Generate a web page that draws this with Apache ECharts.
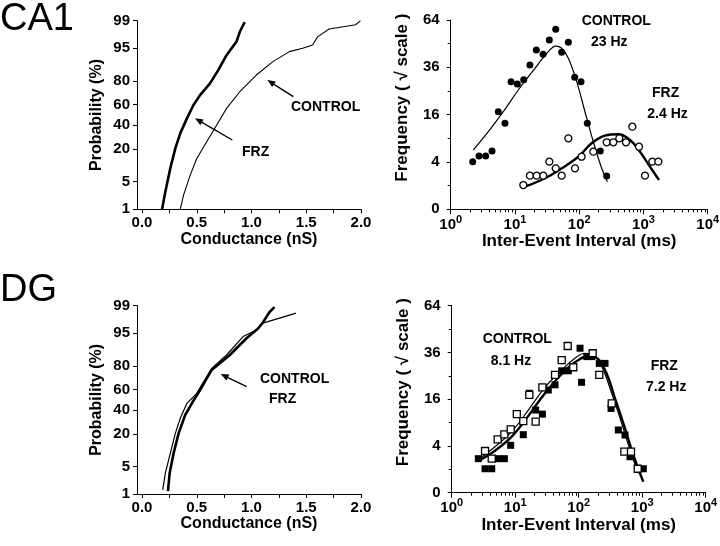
<!DOCTYPE html>
<html><head><meta charset="utf-8">
<script src="https://cdn.jsdelivr.net/npm/echarts@6/dist/echarts.min.js"></script>
<style>html,body{margin:0;padding:0;background:#fff}#c{width:720px;height:546px}</style>
</head><body><div id="c"></div>
<script>
// ---------- DATA ----------
// CA1 cumulative conductance distributions (nS, cumulative probability %)
const ca1FrzCond = [0.183,0.213,0.258,0.304,0.349,0.41,0.47,0.53,0.621,0.696,0.772,0.863,0.893,0.938];
const ca1FrzProb = [1.0,2.9,9.4,20.5,32.5,46.7,59.7,68.8,78.2,86.6,93.0,96.5,98.0,98.9];
const ca1CtlCond = [0.349,0.379,0.44,0.50,0.591,0.682,0.772,0.893,1.044,1.195,1.346,1.467,1.558,1.603,1.709,1.951,1.996];
const ca1CtlProb = [1.0,2.4,6.9,14.2,25.4,40.2,56.5,71.7,83.8,90.6,94.1,95.0,95.8,97.3,98.3,98.7,99.0];
// DG cumulative conductance distributions
const dgCtlCond = [0.189,0.213,0.258,0.304,0.349,0.41,0.50,0.636,0.772,0.923,1.044,1.104,1.407];
const dgCtlProb = [1.3,3.5,9.3,20.4,32.4,46.6,56.4,78.2,86.6,94.1,95.8,97.1,98.4];
const dgFrzCond = [0.237,0.252,0.288,0.334,0.394,0.455,0.53,0.636,0.802,0.954,1.06,1.104,1.165,1.21];
const dgFrzProb = [1.2,3.5,9.3,20.4,35.4,46.6,59.6,77.0,86.6,93.6,96.1,97.2,98.5,98.9];

// CA1 inter-event interval histograms (ms, frequency)
const ca1CtlMs   = [2.2,2.76,3.5,4.4,5.5,7.0,8.7,10.9,13.7,17.1,21.5,27.4,34.3,43.1,53.4,67.8,85.1,106.7,133.7,213,268];
const ca1CtlFreq = [4.05,5.07,5.07,6.07,17.0,13.2,29.1,28.0,30.0,37.2,45.3,42.9,51.2,57.9,44.0,49.8,31.1,29.1,13.2,6.07,1.98];
const ca1FrzMs   = [13.5,17.1,21.8,27.6,34.3,43.1,53.4,67.8,86.0,109,166,268,340,421,535,671,853,1057,1374,1706];
const ca1FrzFreq = [1.05,2.02,2.02,2.02,4.05,3.0,2.02,9.0,3.0,4.94,5.93,8.02,8.02,9.0,8.02,12.2,7.0,2.02,4.05,4.05];
const ca1CtlFitMs   = [2.25,3.85,6.59,11.27,20.5,33.0,43.1,53.5,67.8,91.4,123,166,224,274];
const ca1CtlFitFreq = [6.28,10.76,17.02,25.42,35.5,44.4,47.6,46.3,40.7,29.1,17.0,8.16,3.0,1.36];
const ca1FrzFitMs   = [14.3,29.4,53.5,96.8,156,252,406,618,883,1265,1746];
const ca1FrzFitFreq = [0.91,1.72,3.0,4.94,7.78,9.68,10.05,8.58,5.92,3.24,1.53];

// DG inter-event interval histograms
const dgFrzMs   = [2.63,3.35,4.27,5.43,6.75,8.49,13.4,16.7,21.0,26.8,33.2,42.4,54.0,68.7,105,111,134,160,211,260,323,421,536,642,1041];
const dgFrzFreq = [2.12,1.05,1.05,2.12,2.12,4.11,6.16,18.1,12.5,11.3,19.3,21.3,27.2,27.2,38.2,22.3,33.9,33.9,30.6,30.6,13.0,7.2,6.09,2.37,1.05];
const dgCtlMs   = [3.35,4.27,5.3,6.75,8.49,10.6,13.4,16.7,21.0,26.8,42.4,54.0,67.1,82.2,166,211,331,523,666,849];
const dgCtlFreq = [3.18,2.12,5.22,6.24,7.36,11.3,9.4,17.5,9.23,20.3,25.4,32.2,39.4,28.8,35.6,25.4,14.6,3.08,3.08,1.05];
const dgCtlFitMs   = [2.79,4.81,8.81,16.1,29.4,54.0,87.5,126,170,230,331,475,643,869];
const dgCtlFitFreq = [2.17,3.87,6.81,12.5,20.3,27.6,33.1,35.6,34.7,29.1,18.1,8.81,3.34,0.69];
const dgFrzFitMs   = [2.79,4.81,8.81,16.1,29.4,54.0,87.5,134,181,259,373,536,724,1040];
const dgFrzFitFreq = [1.96,3.23,5.74,10.8,18.1,25.8,31.1,33.8,33.5,27.6,16.3,7.59,2.60,0.22];

// tick labels
const probTicks = [1,5,20,40,60,80,95,99];
const condLabels = [0,0.5,1.0,1.5,2.0];
const condTicks = [0,0.25,0.5,0.75,1.0,1.25,1.5,1.75,2.0];
const freqLabels = [0,4,16,36,64];
const msMinorTicks = [2,3,4,5,6,7,8,9,20,30,40,50,60,70,80,90,200,300,400,500,600,700,800,900,2000,3000,4000,5000,6000,7000,8000,9000];

// ---------- helpers ----------
function probit(p){
  const a=[-3.969683028665376e+01,2.209460984245205e+02,-2.759285104469687e+02,1.383577518672690e+02,-3.066479806614716e+01,2.506628277459239e+00];
  const b=[-5.447609879822406e+01,1.615858368580409e+02,-1.556989798598866e+02,6.680131188771972e+01,-1.328068155288572e+01];
  const c=[-7.784894002430293e-03,-3.223964580411365e-01,-2.400758277161838e+00,-2.549732539343734e+00,4.374664141464968e+00,2.938163982698783e+00];
  const d=[7.784695709041462e-03,3.224671290700398e-01,2.445134137142996e+00,3.754408661907416e+00];
  const pl=0.02425, ph=1-pl; let q,r;
  if(p<pl){q=Math.sqrt(-2*Math.log(p));return (((((c[0]*q+c[1])*q+c[2])*q+c[3])*q+c[4])*q+c[5])/((((d[0]*q+d[1])*q+d[2])*q+d[3])*q+1);}
  if(p<=ph){q=p-0.5;r=q*q;return (((((a[0]*r+a[1])*r+a[2])*r+a[3])*r+a[4])*r+a[5])*q/(((((b[0]*r+b[1])*r+b[2])*r+b[3])*r+b[4])*r+1);}
  q=Math.sqrt(-2*Math.log(1-p));return -(((((c[0]*q+c[1])*q+c[2])*q+c[3])*q+c[4])*q+c[5])/((((d[0]*q+d[1])*q+d[2])*q+d[3])*q+1);
}
const probPos = probTicks.map(p=>probit(p/100));
const freqPos = freqLabels.map(f=>Math.sqrt(f));
const cum = (xs, ps) => xs.map((x,i)=>[x, probit(ps[i]/100)]);
const hist = (ms, f) => ms.map((x,i)=>[x, Math.sqrt(f[i])]);

const FONT = '"Liberation Sans", Arial, Helvetica, sans-serif';
const BLK = '#000';
const tickLab = {color:BLK, fontSize:15, fontWeight:'bold', fontFamily:FONT};
const nameStyle = (fs, pad) => ({color:BLK, fontSize:fs, fontWeight:'bold', fontFamily:FONT, padding: pad || 0});

function condX(grid){
  return {type:'value', gridIndex:grid, min:-0.046, max:2.0,
    axisLine:{show:true, onZero:false, lineStyle:{color:BLK,width:1}},
    axisTick:{show:true, customValues:condTicks, length:4, lineStyle:{color:BLK,width:1}},
    axisLabel:Object.assign({customValues:condLabels, margin:6, formatter:v=>v.toFixed(1)}, tickLab),
    splitLine:{show:false},
    name:'Conductance (nS)', nameLocation:'middle', nameGap:21, nameTextStyle:nameStyle(16)};
}
function probY(grid){
  return {type:'value', gridIndex:grid, min:probPos[0], max:probPos[probPos.length-1],
    axisLine:{show:true, onZero:false, lineStyle:{color:BLK,width:1}},
    axisTick:{show:true, customValues:probPos, length:4, lineStyle:{color:BLK,width:1}},
    axisLabel:Object.assign({customValues:probPos, margin:7, formatter:v=>{
      let best=probTicks[0], bd=1e9; probTicks.forEach((p,i)=>{const dd=Math.abs(probPos[i]-v); if(dd<bd){bd=dd;best=p;}}); return String(best);}}, tickLab),
    splitLine:{show:false},
    name:'Probability (%)', nameLocation:'middle', nameGap:32, nameTextStyle:nameStyle(16)};
}
function msX(grid){
  return {type:'log', logBase:10, gridIndex:grid, min:1, max:10000, position:'bottom',
    axisLine:{show:true, onZero:false, lineStyle:{color:BLK,width:1}},
    axisTick:{show:true, length:5, lineStyle:{color:BLK,width:1}},
    axisLabel:{margin:5, color:BLK, fontFamily:FONT, fontWeight:'bold',
      formatter:v=>'{b|10}{s|'+Math.round(Math.log10(v))+'}',
      rich:{b:{fontSize:15, fontWeight:'bold', fontFamily:FONT, color:BLK, lineHeight:18, verticalAlign:'bottom'},
            s:{fontSize:11, fontWeight:'bold', fontFamily:FONT, color:BLK, lineHeight:12, verticalAlign:'top'}}},
    splitLine:{show:false},
    name:'Inter-Event Interval (ms)', nameLocation:'middle', nameGap:22, nameTextStyle:nameStyle(17)};
}
function msMinorX(grid){
  return {type:'log', logBase:10, gridIndex:grid, min:1, max:10000, position:'bottom',
    axisLine:{show:false, onZero:false},
    axisTick:{show:true, customValues:msMinorTicks, length:3, lineStyle:{color:BLK,width:1}},
    axisLabel:{show:false}, splitLine:{show:false}};
}
function sqrtY(grid){
  return {type:'value', gridIndex:grid, min:0, max:8, interval:2,
    axisLine:{show:true, onZero:false, lineStyle:{color:BLK,width:1}},
    axisTick:{show:true, length:4, lineStyle:{color:BLK,width:1}},
    minorTick:{show:true, splitNumber:2, length:3, lineStyle:{color:BLK,width:1}},
    axisLabel:Object.assign({customValues:freqPos, margin:11, formatter:v=>String(Math.round(v*v))}, tickLab),
    splitLine:{show:false},
    name:'Frequency ( \u221A scale )', nameLocation:'middle', nameGap:40, nameTextStyle:nameStyle(17,[0,0,0,34])};
}

function line(xi, yi, data, w, smooth){
  return {type:'line', xAxisIndex:xi, yAxisIndex:yi, data:data, showSymbol:false, symbol:'none',
    smooth:smooth||false, lineStyle:{color:BLK, width:w, opacity:1}, silent:true, z:2};
}
function pts(xi, yi, data, sym, filled){
  return {type:'scatter', xAxisIndex:xi, yAxisIndex:yi, data:data, symbol:sym, symbolSize:7,
    itemStyle: filled ? {color:BLK, opacity:1} : {color:'#fff', borderColor:BLK, borderWidth:1.3, opacity:1}, z:3, silent:true};
}

function arrow(x1,y1,x2,y2){
  const ang=Math.atan2(y2-y1,x2-x1), L=8, W=3.3;
  const cs=Math.cos(ang), sn=Math.sin(ang);
  const bx=x2-L*cs, by=y2-L*sn;
  return [
    {type:'line', shape:{x1:x1,y1:y1,x2:bx,y2:by}, style:{stroke:BLK, lineWidth:1.4}},
    {type:'polygon', shape:{points:[[x2,y2],[bx+W*sn,by-W*cs],[bx-W*sn,by+W*cs]]}, style:{fill:BLK}}
  ];
}
function txt(t, x, y, size, weight){
  return {type:'text', x:x, y:y, style:{text:t, fill:BLK, fontSize:size, fontWeight:weight||'bold', fontFamily:FONT, align:'left', verticalAlign:'middle'}};
}

const option = {
  animation:false,
  backgroundColor:'#fff',
  textStyle:{fontFamily:FONT},
  grid:[
    {left:137, top:20.7, width:224, height:188.6, containLabel:false, outerBoundsMode:'none'},
    {left:450.7, top:20, width:257, height:189.3, containLabel:false, outerBoundsMode:'none'},
    {left:137, top:305.7, width:224, height:188.3, containLabel:false, outerBoundsMode:'none'},
    {left:451.7, top:305.7, width:254, height:187, containLabel:false, outerBoundsMode:'none'}
  ],
  xAxis:[condX(0), msX(1), condX(2), msX(3), msMinorX(1), msMinorX(3)],
  yAxis:[probY(0), sqrtY(1), probY(2), sqrtY(3)],
  series:[
    // CA1 cumulative
    line(0,0,cum(ca1CtlCond,ca1CtlProb),1.1),
    line(0,0,cum(ca1FrzCond,ca1FrzProb),2.6),
    // CA1 histograms
    line(1,1,hist(ca1CtlFitMs,ca1CtlFitFreq),1.2,0.4),
    line(1,1,hist(ca1FrzFitMs,ca1FrzFitFreq),2.4,0.4),
    pts(1,1,hist(ca1CtlMs,ca1CtlFreq),'circle',true),
    pts(1,1,hist(ca1FrzMs,ca1FrzFreq),'circle',false),
    // DG cumulative
    line(2,2,cum(dgCtlCond,dgCtlProb),1.2),
    line(2,2,cum(dgFrzCond,dgFrzProb),2.6),
    // DG histograms
    line(3,3,hist(dgCtlFitMs,dgCtlFitFreq),1.2,0.4),
    line(3,3,hist(dgFrzFitMs,dgFrzFitFreq),2.4,0.4),
    pts(3,3,hist(dgFrzMs,dgFrzFreq),'rect',true),
    pts(3,3,hist(dgCtlMs,dgCtlFreq),'rect',false)
  ],
  graphic:[].concat(
    [{type:'text', x:0, y:1, style:{text:'CA1', fill:BLK, fontSize:38, fontWeight:'normal', fontFamily:FONT, align:'left', verticalAlign:'top'}},
     {type:'text', x:0, y:272, style:{text:'DG', fill:BLK, fontSize:38, fontWeight:'normal', fontFamily:FONT, align:'left', verticalAlign:'top'}},
     txt('CONTROL',291,107,14), txt('FRZ',242,152,14),
     txt('CONTROL',581.7,20.7,14), txt('23 Hz',591,42.5,14), txt('FRZ',652,92.7,14), txt('2.4 Hz',647.3,114.3,14),
     txt('CONTROL',260,379,14), txt('FRZ',269,399.5,14),
     txt('CONTROL',482.7,339,14), txt('8.1 Hz',490.7,361,14), txt('FRZ',650.7,366,14), txt('7.2 Hz',646,387.3,14)],
    arrow(293.3,96.7,267.3,80),
    arrow(232.3,140,195,118.3),
    arrow(246.7,386.7,220.7,374)
  )
};
const chart = echarts.init(document.getElementById('c'), null, {renderer:'canvas'});
chart.setOption(option);
</script></body></html>
